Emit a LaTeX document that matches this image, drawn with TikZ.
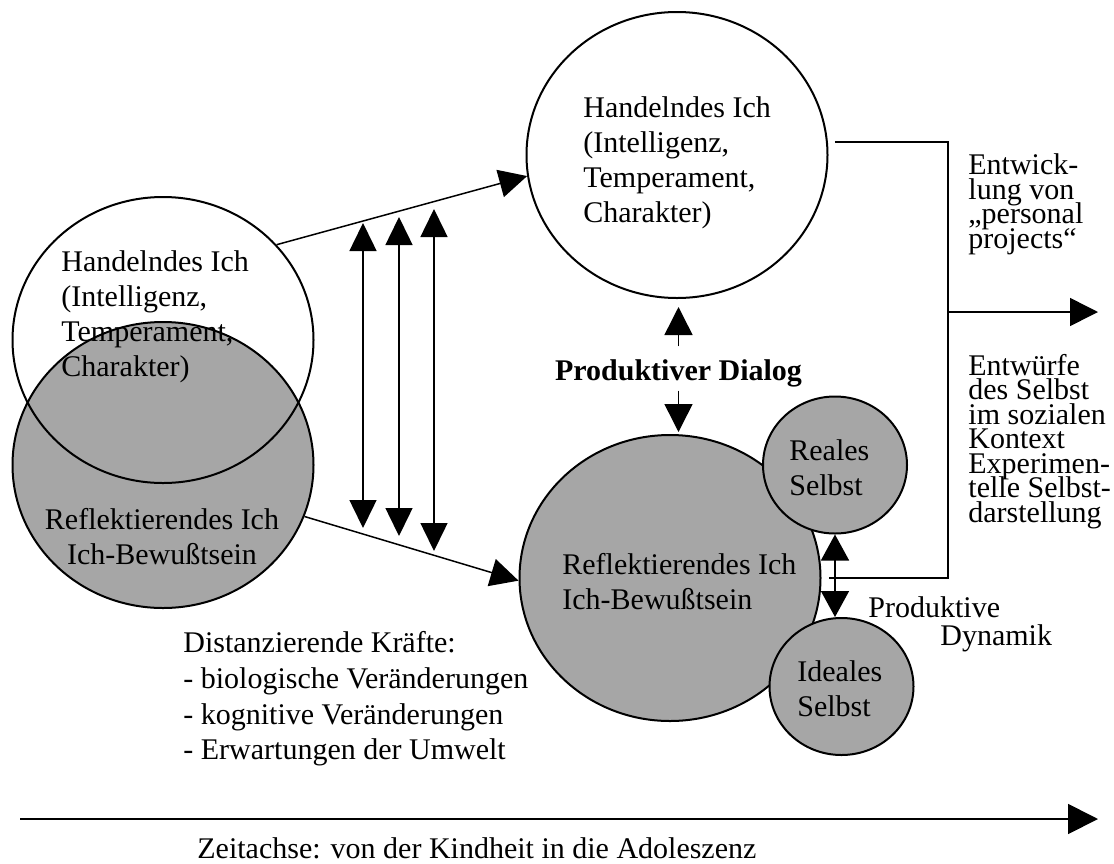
\documentclass[tikz,border=0pt]{standalone}
\usepackage{fontspec}
\setmainfont{Liberation Serif}
\usetikzlibrary{shapes.geometric,arrows.meta}
\definecolor{ichgrau}{RGB}{166,166,166}
\newcommand\kreisschrift{\fontsize{15pt}{17.6pt}\selectfont}
\newcommand\engschrift{\fontsize{15pt}{12.25pt}\selectfont\lineskiplimit=-20pt}
\tikzset{
  ich/.style={ellipse,draw,line width=1pt,minimum width=150.5pt,minimum height=143pt,inner sep=0pt},
  selbst/.style={ellipse,draw,fill=ichgrau,line width=1pt,minimum width=72pt,minimum height=68.5pt,inner sep=0pt},
  txt/.style={font=\kreisschrift,align=left,inner sep=0pt,anchor=north west},
  engtxt/.style={font=\engschrift,align=left,inner sep=0pt,anchor=north west},
  pfeil/.style={line width=0.75pt,-{Triangle[length=14pt,width=14pt]}},
  doppelpfeil/.style={line width=0.75pt,{Triangle[length=14pt,width=13.5pt]}-{Triangle[length=14pt,width=13.5pt]}},
  verbinder/.style={line width=1.3pt},
}

\begin{document}
\begin{tikzpicture}[x=0.5pt,y=-0.5pt]
      \useasboundingbox (0,0) rectangle (1114,863);

      \node[ich,fill=ichgrau] (rg) at (163,465) {};
      \node[ich] (hl) at (163,340) {};
      \node[ich] (ht) at (677,155) {};
      \node[ich,fill=ichgrau] (rb) at (670,578) {};
      \node[selbst] (rs) at (835,465) {};
      \node[selbst] (is) at (841.5,686.5) {};

      \node[txt] (hl-t) at (61,250) {Handelndes Ich\\(Intelligenz,\\Temperament,\\Charakter)};
      \node[txt] (ht-t) at (583,96) {Handelndes Ich\\(Intelligenz,\\Temperament,\\Charakter)};
      \node[txt,align=center,anchor=north] (rg-t) at (162,507.5) {Reflektierendes Ich\\Ich-Bewußtsein};
      \node[txt] (rb-t) at (562,553) {Reflektierendes Ich\\Ich-Bewußtsein};
      \node[txt] (rs-t) at (789,439) {Reales\\Selbst};
      \node[txt] (is-t) at (797,660) {Ideales\\Selbst};
      \node[font=\kreisschrift\bfseries,inner xsep=0pt,inner ysep=1.5pt,anchor=base] (pd) at (678.5,380.7) {Produktiver Dialog};
      \node[engtxt] (ep) at (968,153.5) {Entwick-\\lung von\\„personal\\projects“};
      \node[engtxt] (es) at (968,353.5) {Entwürfe\\des Selbst\\im sozialen\\Kontext\\Experimen-\\telle Selbst-\\darstellung};
      \node[txt,font=\fontsize{15pt}{14pt}\selectfont] (pdyn) at (868,596) {Produktive\\\hspace*{36pt}Dynamik};
      \node[txt,font=\fontsize{15pt}{17.9pt}\selectfont] (dk) at (183,631) {Distanzierende Kräfte:\\- biologische Veränderungen\\- kognitive Veränderungen\\- Erwartungen der Umwelt};
      \node[font=\kreisschrift,inner sep=0pt,anchor=base west] (za) at (197,858.3) {Zeitachse: von der Kindheit in die Adoleszenz};

      \coordinate (a1o) at (363,223);
      \coordinate (a1u) at (363,528);
      \coordinate (a2o) at (399,217);
      \coordinate (a2u) at (399,536);
      \coordinate (a3o) at (434,209);
      \coordinate (a3u) at (434,551);
      \coordinate (ecke) at (948,578);
      \coordinate (abzweig) at (948,312);
      \coordinate (ziel) at (1098,312);
      \coordinate (t0) at (20,819);
      \coordinate (t1) at (1098,819);

      \draw[pfeil] (hl.40) -- (ht.188);
      \draw[pfeil] (rg.-20) -- (rb.181);
      \draw[doppelpfeil] (a1o) -- (a1u);
      \draw[doppelpfeil] (a2o) -- (a2u);
      \draw[doppelpfeil] (a3o) -- (a3u);
      \draw[pfeil,shorten <=5pt,shorten >=4pt] (pd.north) -- (pd.north |- ht.south);
      \draw[pfeil,shorten >=1pt] (pd.south) -- (pd.south |- rb.north);
      \draw[line width=0.75pt,{Triangle[length=13pt,width=14pt]}-{Triangle[length=13pt,width=14pt]}] (rs.south) -- (rs.south |- is.north);
      \draw[verbinder] ([xshift=3.5pt]ht.5) -| (ecke) -- ([xshift=3.5pt]rb.east);
      \draw[pfeil] (abzweig) -- (ziel);
      \draw[line width=0.9pt,-{Triangle[length=15pt,width=15pt]}] (t0) -- (t1);
    \end{tikzpicture}
\end{document}
